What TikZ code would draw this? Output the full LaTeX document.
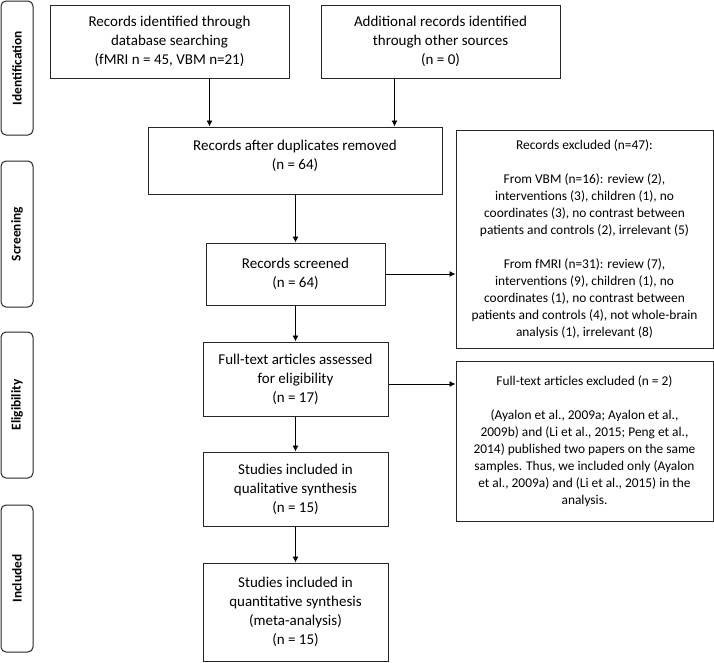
\documentclass[tikz,border=0pt]{standalone}
\usepackage{fontspec}
\setmainfont{Carlito}
\usetikzlibrary{arrows.meta}

\begin{document}
\begin{tikzpicture}[
        x=1pt, y=-1pt,
        box/.style={rectangle, draw=black!85, line width=1pt, align=center, inner sep=0pt,
            font=\fontsize{15}{19}\selectfont},
        noteBox/.style={box, font=\fontsize{13.4}{17}\selectfont},
        phaseBox/.style={rectangle, draw=black!85, line width=1pt, rounded corners=5pt,
            minimum width=32pt, inner sep=0pt},
        phaseText/.style={rotate=90, font=\fontsize{13.4}{16}\selectfont\bfseries},
        arr/.style={-{Latex[length=6pt,width=6pt]}, line width=0.9pt}
    ]
        \useasboundingbox (0,0) rectangle (714,662);

        % Phase labels
        \node[phaseBox, minimum height=134pt] (ident) at (17,68) {};
        \node[phaseText] at (ident) {Identification};
        \node[phaseBox, minimum height=146pt] (screen) at (17,234) {};
        \node[phaseText] at (screen) {Screening};
        \node[phaseBox, minimum height=146pt] (elig) at (17,405) {};
        \node[phaseText] at (elig) {Eligibility};
        \node[phaseBox, minimum height=147pt] (incl) at (17,578.5) {};
        \node[phaseText] at (incl) {Included};

        % Flow boxes
        \node[box, minimum width=239pt, minimum height=73pt] (db) at (169.5,41.5)
            {Records identified through\\ database searching\\ (fMRI n = 45, VBM n=21)};
        \node[box, minimum width=239pt, minimum height=73pt] (other) at (440.5,41.5)
            {Additional records identified\\ through other sources\\ (n = 0)};
        \node[box, minimum width=294pt, minimum height=67pt] (dup) at (295,160.5) {};
        \node[font=\fontsize{15}{19}\selectfont, align=center, inner sep=0pt] (dupText) at (295,156)
            {Records after duplicates removed\\ (n = 64)};
        \node[box, minimum width=179pt, minimum height=62pt] (screened) at (295.5,274)
            {Records screened\\ (n = 64)};
        \node[box, minimum width=185pt, minimum height=74pt] (fulltext) at (295.5,379)
            {Full-text articles assessed\\ for eligibility\\ (n = 17)};
        \node[box, minimum width=185pt, minimum height=74pt] (qual) at (295.5,489)
            {Studies included in\\ qualitative synthesis\\ (n = 15)};
        \node[box, minimum width=185pt, minimum height=98pt] (quant) at (295.5,612)
            {Studies included in\\ quantitative synthesis\\ (meta-analysis)\\ (n = 15)};

        % Exclusion boxes
        \node[noteBox, minimum width=257pt, minimum height=218pt] (excl) at (584.5,239)
            {Records excluded (n=47):\\[17pt]
             From VBM (n=16): review (2),\\ interventions (3), children (1), no\\
             coordinates (3), no contrast between\\ patients and controls (2), irrelevant (5)\\[17pt]
             From fMRI (n=31): review (7),\\ interventions (9), children (1), no\\
             coordinates (1), no contrast between\\ patients and controls (4), not whole-brain\\
             analysis (1), irrelevant (8)};
        \node[noteBox, minimum width=257pt, minimum height=160pt] (fexcl) at (584.5,441)
            {Full-text articles excluded (n = 2)\\[17pt]
             (Ayalon et al., 2009a; Ayalon et al.,\\ 2009b) and (Li et al., 2015; Peng et al.,\\
             2014) published two papers on the same\\ samples. Thus, we included only (Ayalon\\
             et al., 2009a) and (Li et al., 2015) in the\\ analysis.};

        % Arrows
        \draw[arr] ([xshift=40pt]db.south) -- ([xshift=40pt]db.south |- dup.north);
        \draw[arr] ([xshift=-46pt]other.south) -- ([xshift=-46pt]other.south |- dup.north);
        \draw[arr] (dup.south -| screened.north) -- (screened.north);
        \draw[arr] (screened) -- (fulltext);
        \draw[arr] (fulltext) -- (qual);
        \draw[arr] (qual) -- (quant);
        \draw[arr] (screened.east) -- (screened.east -| excl.west);
        \draw[arr] ([yshift=-5pt]fulltext.east) -- ([yshift=-5pt]fulltext.east -| fexcl.west);
    \end{tikzpicture}
\end{document}
